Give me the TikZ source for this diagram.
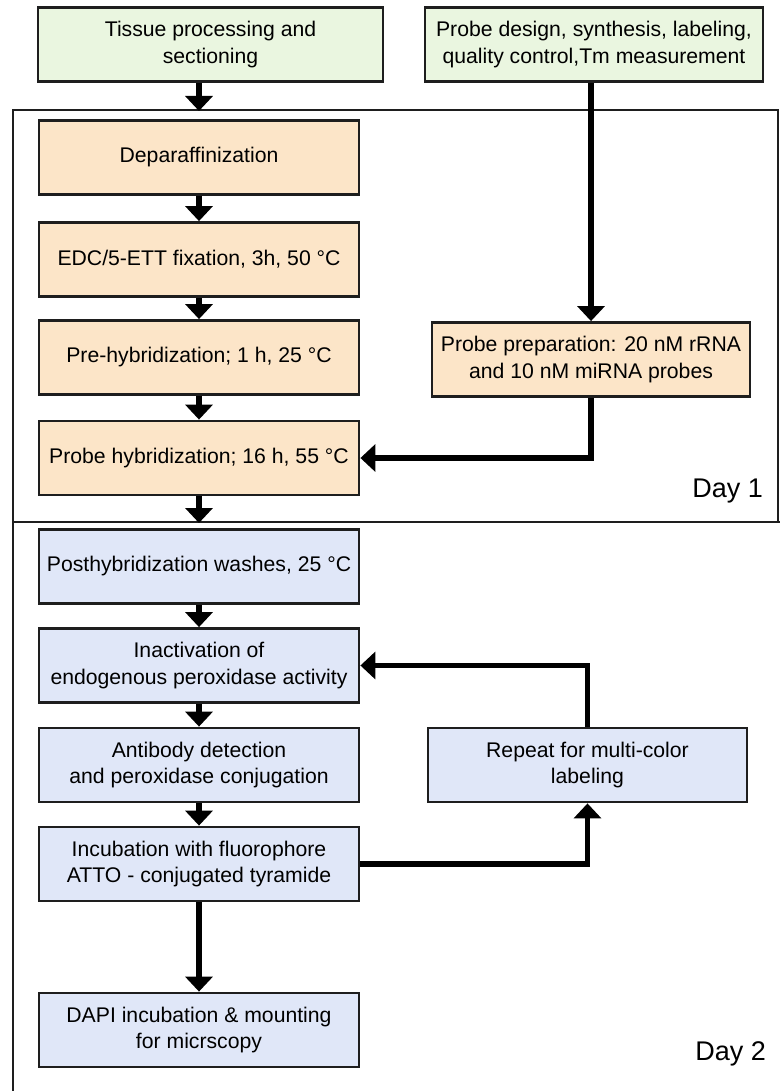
\documentclass[tikz,border=0pt]{standalone}
\usepackage{fontspec}
\setmainfont{Liberation Sans}
\usepackage{tikz}
\usetikzlibrary{arrows.meta, positioning}
\usepackage{xcolor}
\definecolor{greenfill}{HTML}{EAF6E0}
\definecolor{orangefill}{HTML}{FCE5C8}
\definecolor{bluefill}{HTML}{E0E7F8}
\definecolor{boxline}{HTML}{1E1E1E}

\begin{document}
\begin{tikzpicture}[x=1pt, y=-1pt,
    every node/.style={font=\fontsize{21.2}{26.5}\selectfont, align=center, inner sep=0pt},
    stepbox/.style={draw=boxline, line width=2.8pt, minimum width=320pt, minimum height=74pt},
    greenbox/.style={stepbox, fill=greenfill},
    orangebox/.style={stepbox, fill=orangefill},
    bluebox/.style={stepbox, fill=bluefill},
    flow/.style={line width=5.5pt, -{Triangle[width=27pt, length=15pt]}},
    frame/.style={line width=1.8pt, draw=boxline},
    daylabel/.style={font=\fontsize{27}{30}\selectfont, anchor=base east}]
        \useasboundingbox (0,0) rectangle (780,1091);

        % Draw day frames
        \draw[frame] (13,110) rectangle (778,522);
        \draw[frame] (13,522) -- (780,522);
        \draw[frame] (13,522) -- (13,1091);
        \coordinate (dayonetop) at (199,110);
        \coordinate (daytwotop) at (199,522);

        % Draw preparation boxes
        \node[greenbox, minimum width=345pt] (tissue) at (210.5,44.5) {Tissue processing and\\sectioning};
        \node[greenbox, minimum width=338pt] (design) at (594,44.5) {Probe design, synthesis, labeling,\\quality control,Tm measurement};

        % Draw day 1 boxes
        \node[orangebox] (depar) at (199,157.5) {Deparaffinization};
        \node[orangebox] (edc) at (199,259.5) {EDC/5-ETT fixation, 3h, 50 °C};
        \node[orangebox] (prehyb) at (199,357.5) {Pre-hybridization; 1 h, 25 °C};
        \node[orangebox] (hyb) at (199,458) {Probe hybridization; 16 h, 55 °C};
        \node[orangebox, minimum width=318pt] (prep) at (591,359.5) {Probe preparation: 20 nM rRNA\\and 10 nM miRNA probes};
        \node[daylabel] (dayone) at (763,497) {Day 1};

        % Draw day 2 boxes
        \node[bluebox] (posthyb) at (199,566.5) {Posthybridization washes, 25 °C};
        \node[bluebox] (inact) at (199,665.5) {Inactivation of\\endogenous peroxidase activity};
        \node[bluebox] (antib) at (199,765) {Antibody detection\\and peroxidase conjugation};
        \node[bluebox] (incub) at (199,864) {Incubation with fluorophore\\ATTO - conjugated tyramide};
        \node[bluebox] (dapi) at (199,1030) {DAPI incubation \& mounting\\for micrscopy};
        \node[bluebox, minimum width=319pt] (repeat) at (587.5,765) {Repeat for multi-color\\labeling};
        \node[daylabel] (daytwo) at (766,1060) {Day 2};

        % Draw arrows
        \draw[flow] (depar.north |- tissue.south) -- ([yshift=-1pt]dayonetop);
        \draw[flow] (depar) -- (edc);
        \draw[flow] (edc) -- (prehyb);
        \draw[flow] (prehyb) -- (hyb);
        \draw[flow] (hyb) -- ([yshift=-1pt]daytwotop);
        \draw[flow] (prep.north |- design.south) -- (prep.north);
        \draw[flow] (prep.south) |- (hyb.east);
        \draw[flow] (posthyb) -- (inact);
        \draw[flow] (inact) -- (antib);
        \draw[flow] (antib) -- (incub);
        \draw[flow] (incub) -- (dapi);
        \draw[flow] (incub.east) -| (repeat.south);
        \draw[flow] (repeat.north) |- (inact.east);
    \end{tikzpicture}
\end{document}
